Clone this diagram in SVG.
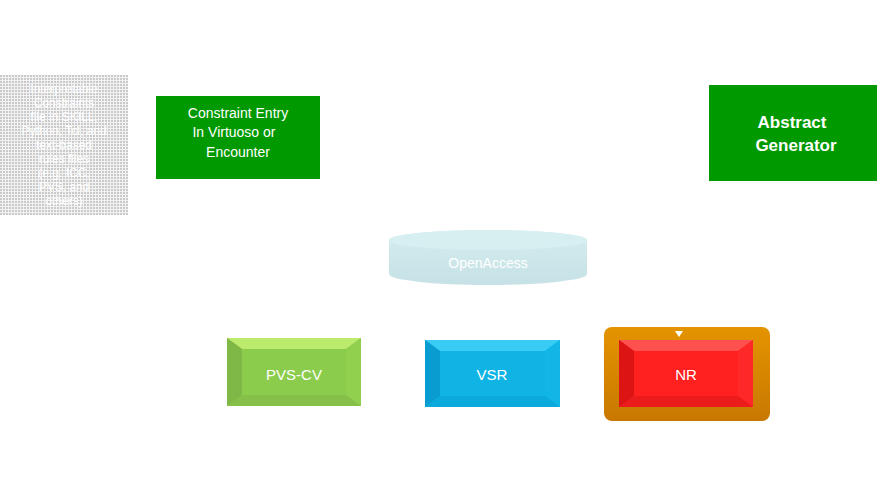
<svg xmlns="http://www.w3.org/2000/svg" width="878" height="477" viewBox="0 0 878 477">
<defs>
<style>
.t{font-family:"Liberation Sans",Arial,sans-serif;fill:#fff;text-anchor:middle}
</style>
<pattern id="dots" width="3" height="3" patternUnits="userSpaceOnUse">
<rect width="3" height="3" fill="#f2f2f2"/>
<rect width="2" height="2" fill="#cacaca"/>
</pattern>
<linearGradient id="cyl" x1="0" y1="0" x2="0" y2="1">
<stop offset="0" stop-color="#d4ecee"/>
<stop offset="1" stop-color="#c6e2e6"/>
</linearGradient>
<linearGradient id="glow" x1="0" y1="0" x2="0" y2="1">
<stop offset="0" stop-color="#e49400"/>
<stop offset="1" stop-color="#c87800"/>
</linearGradient>
</defs>
<rect width="878" height="477" fill="#fff"/>

<g id="interp">
<rect x="0" y="75" width="128" height="140" fill="url(#dots)"/>
<text class="t" font-size="12" x="64" y="93">Interpretable</text>
<text class="t" font-size="12" x="64" y="107">Constraints</text>
<text class="t" font-size="12" x="64" y="121">file in SKILL,</text>
<text class="t" font-size="12" x="64" y="135">Python, Tcl, and</text>
<text class="t" font-size="12" x="64" y="149">text-based</text>
<text class="t" font-size="12" x="64" y="163">rules files</text>
<text class="t" font-size="12" x="64" y="177">(e.g. ICC,</text>
<text class="t" font-size="12" x="64" y="191">PVS, and</text>
<text class="t" font-size="12" x="64" y="205">others)</text>
</g>

<g id="constraint-entry">
<rect x="156" y="96" width="164" height="83" fill="#009900"/>
<text class="t" font-size="14" x="238" y="118">Constraint Entry</text>
<text class="t" font-size="14" x="234" y="137">In Virtuoso or</text>
<text class="t" font-size="14" x="238" y="157">Encounter</text>
</g>

<g id="abstract-generator">
<rect x="709" y="85" width="168" height="96" fill="#009900"/>
<text class="t" font-size="17" font-weight="bold" x="792" y="128">Abstract</text>
<text class="t" font-size="17" font-weight="bold" x="796" y="151">Generator</text>
</g>

<g id="openaccess">
<path d="M389 240 A99 10 0 0 1 587 240 L587 274 A99 11 0 0 1 389 274 Z" fill="url(#cyl)"/>
<ellipse cx="488" cy="240" rx="99" ry="10" fill="#d8eff2"/>
<text class="t" font-size="14" x="488" y="268">OpenAccess</text>
</g>

<g id="pvs-cv">
<rect x="227" y="338" width="134" height="68" fill="#8ccc4c"/>
<polygon points="227,338 361,338 346,349 242,349" fill="#bcea6c"/>
<polygon points="227,338 242,349 242,395 227,406" fill="#80b848"/>
<polygon points="361,338 361,406 346,395 346,349" fill="#90d04e"/>
<polygon points="227,406 361,406 346,395 242,395" fill="#86c048"/>
<text class="t" font-size="15" x="294" y="380">PVS-CV</text>
</g>

<g id="vsr">
<rect x="425" y="340" width="135" height="67" fill="#10b4e4"/>
<polygon points="425,340 560,340 545,351 440,351" fill="#38ccf4"/>
<polygon points="425,340 440,351 440,396 425,407" fill="#089cd0"/>
<polygon points="560,340 560,407 545,396 545,351" fill="#12b6e6"/>
<polygon points="425,407 560,407 545,396 440,396" fill="#0caadc"/>
<text class="t" font-size="15" x="492" y="380">VSR</text>
</g>

<g id="nr">
<rect x="604" y="327" width="166" height="94" rx="8" fill="url(#glow)"/>
<rect x="619" y="340" width="134" height="67" fill="#ff2020"/>
<polygon points="619,340 753,340 738,351 634,351" fill="#ff5050"/>
<polygon points="619,340 634,351 634,396 619,407" fill="#dc1414"/>
<polygon points="753,340 753,407 738,396 738,351" fill="#ff2828"/>
<polygon points="619,407 753,407 738,396 634,396" fill="#ec1c1c"/>
<polygon points="675,331 683,331 679,337" fill="#fff"/>
<text class="t" font-size="15" x="686" y="380">NR</text>
</g>

<g id="connectors"></g>
</svg>
